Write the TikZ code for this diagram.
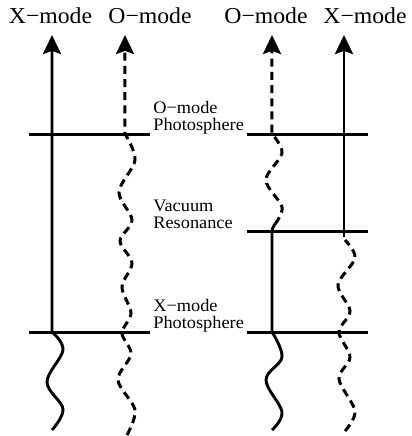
\documentclass[tikz,border=0pt]{standalone}
\usepackage{fontspec}
\setmainfont{Liberation Serif}
\usetikzlibrary{arrows.meta}
\newcommand\wtxt[1]{\scalebox{1.04}[1]{#1}}
\begin{document}
\begin{tikzpicture}[x=0.5pt,y=-0.5pt,
  ray/.style={line width=1.45pt},
  dray/.style={line width=1.5pt, dash pattern=on 4pt off 2.6pt},
  level/.style={line width=1.5pt},
  tipend/.style={-{Stealth[length=9.5pt,width=9pt,inset=1.6pt]}},
  big/.style={font=\fontsize{11.4}{13}\selectfont, inner sep=0pt, anchor=base},
  small/.style={font=\fontsize{8.8}{8.4}\selectfont, align=left, inner sep=0pt, anchor=base west}]
\useasboundingbox (0,0) rectangle (412,436);

% top labels
\node[big] (lx) at (50.5,23) {\wtxt{X−mode}};
\node[big] (lo) at (150,23) {\wtxt{O−mode}};
\node[big] (ro) at (266,23) {\wtxt{O−mode}};
\node[big] (rx) at (365,23) {\wtxt{X−mode}};

% side labels
\node[small] (ophot) at (153,130.5) {\wtxt{O−mode}\\\wtxt{Photosphere}};
\node[small] (vac) at (153,228) {\wtxt{Vacuum}\\\wtxt{Resonance}};
\node[small] (xphot) at (153,328.5) {\wtxt{X−mode}\\\wtxt{Photosphere}};

% level lines
\coordinate (oL1) at (29,134);  \coordinate (oL2) at (150,134);
\coordinate (oR1) at (247,134); \coordinate (oR2) at (368,134);
\coordinate (vR1) at (247,231); \coordinate (vR2) at (368,231);
\coordinate (xL1) at (29,332);  \coordinate (xL2) at (150,332);
\coordinate (xR1) at (247,332); \coordinate (xR2) at (368,332);
\draw[level] (oL1) -- (oL2);
\draw[level] (oR1) -- (oR2);
\draw[level] (vR1) -- (vR2);
\draw[level] (xL1) -- (xL2);
\draw[level] (xR1) -- (xR2);

% left panel: X-mode (solid)
\coordinate (lxtop) at (52,35);
\draw[ray,tipend] plot[smooth,tension=0.6] coordinates {(52,430) (63,409) (47,382) (63,350) (52,332)} -- (lxtop);

% left panel: O-mode (dashed)
\coordinate (lotop) at (125,35);
\draw[dray,tipend] plot[smooth,tension=0.55] coordinates {(127,435) (135,410) (118,380) (131,354) (122,333) (131,313) (122,287) (132,263) (120,241) (132,220) (119,192) (135,160) (125,134)} -- (lotop);

% right panel: O-mode (dashed above resonance, solid below)
\coordinate (rotop) at (272,35);
\draw[dray,tipend] plot[smooth,tension=0.55] coordinates {(275,224) (282,207) (266,180) (282,153) (272,134)} -- (rotop);
\draw[ray] plot[smooth,tension=0.6] coordinates {(272,430) (282,412) (266,380) (282,357) (272,332)} -- (272,234) .. controls (272,229) .. (275,224);

% right panel: X-mode (solid above resonance, dashed below)
\coordinate (rxtop) at (344,35);
\coordinate (rxmid) at (344,237);
\draw[ray,tipend] (rxmid) -- (rxtop);
\draw[dray] plot[smooth,tension=0.55] coordinates {(345,431) (355,411) (339,379) (350,357) (339,332) (350,311) (338,285) (355,258) (345,240)};
\end{tikzpicture}
\end{document}
